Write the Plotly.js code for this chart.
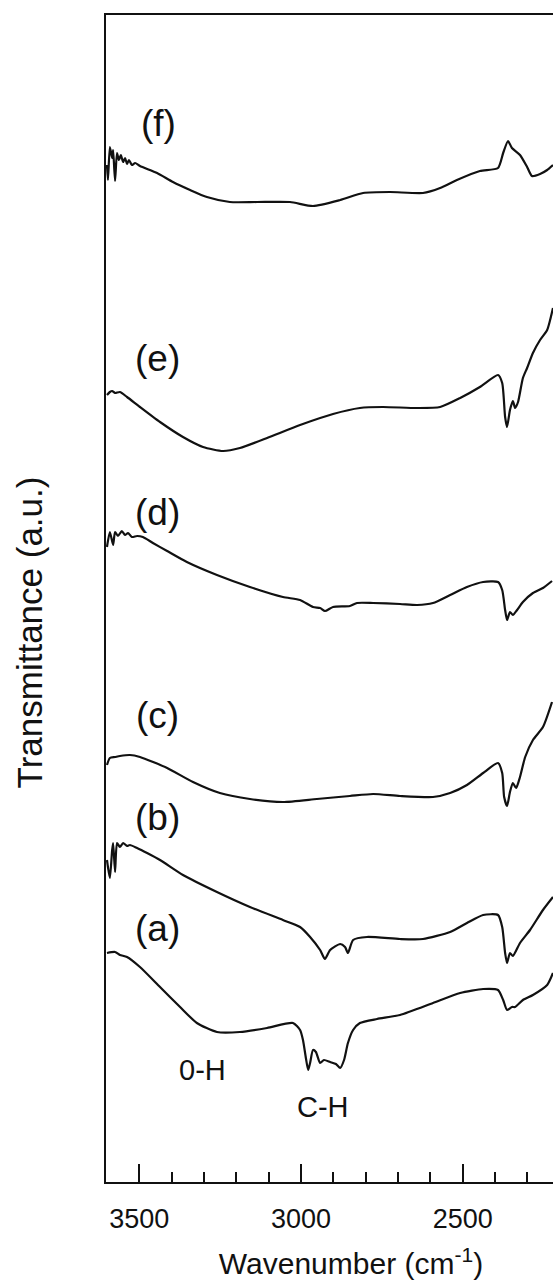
<!DOCTYPE html>
<html>
<head>
<meta charset="utf-8">
<script src="https://cdn.plot.ly/plotly-3.0.1.min.js"></script>
<style>
html,body{margin:0;padding:0;overflow:hidden;background:#fff;}
#chart{width:596px;height:1282px;}
</style>
</head>
<body>
<div id="chart"></div>
<script>
// Wavenumber (cm-1) and transmittance (a.u., stacked)
const wnF = [3600,3597,3591,3584,3581,3575,3569,3563,3557,3550,3544,3538,3532,3523,3513,3498,3445,3396,3343,3291,3220,3136,3034,2963,2879,2808,2725,2623,2570,2518,2447,2391,2375,2360,2348,2323,2301,2286,2261,2239,2221];
const tF  = [101.7,100.2,103.5,102.4,103.2,100.1,102.9,102.2,102.7,102.0,102.4,101.8,102.2,101.7,101.9,101.6,100.9,100.0,99.2,98.5,98.0,98.0,98.0,97.6,98.2,98.9,99.0,98.9,99.4,100.2,101.1,101.4,102.9,104.1,103.4,102.7,101.5,100.6,100.8,101.2,101.7];

const wnE = [3600,3591,3584,3575,3560,3538,3498,3436,3365,3303,3241,3189,3105,3003,2901,2818,2747,2641,2570,2508,2447,2391,2378,2369,2363,2354,2345,2338,2329,2314,2301,2283,2261,2239,2221];
const tE  = [78.7,79.0,79.1,78.9,79.0,78.5,77.5,76.0,74.5,73.5,73.1,73.4,74.4,75.7,76.8,77.4,77.5,77.4,77.5,78.4,79.5,80.7,79.9,76.5,75.5,77.2,78.1,77.4,78.0,80.4,81.4,82.9,84.2,85.2,87.4];

const wnD = [3600,3591,3581,3575,3566,3554,3544,3535,3523,3507,3489,3458,3414,3353,3260,3158,3056,3003,2963,2941,2926,2901,2849,2827,2777,2694,2641,2592,2539,2487,2437,2391,2378,2369,2363,2354,2345,2332,2314,2283,2252,2224];
const tD  = [63.5,65.0,63.7,65.0,64.6,65.1,64.7,64.9,64.5,64.6,64.5,63.9,63.1,62.0,60.7,59.5,58.5,58.2,57.5,57.4,57.1,57.5,57.6,57.9,57.9,57.8,57.7,57.9,58.7,59.5,60.0,60.0,59.2,57.2,56.2,57.0,56.7,57.2,58.0,58.9,59.4,60.1];

const wnC = [3600,3591,3575,3560,3529,3498,3414,3334,3251,3158,3056,2951,2849,2777,2694,2592,2539,2487,2437,2391,2378,2372,2363,2354,2345,2335,2323,2307,2283,2252,2224];
const tC  = [41.7,42.4,42.5,42.6,42.7,42.5,41.4,40.0,38.9,38.3,38.0,38.3,38.6,38.8,38.6,38.5,38.9,39.7,40.9,41.9,40.9,38.5,37.6,39.0,39.9,39.4,40.5,42.5,44.2,45.5,48.0];

const wnB = [3600,3597,3591,3584,3581,3575,3569,3560,3550,3538,3529,3507,3476,3436,3365,3260,3158,3056,3003,2972,2941,2926,2910,2879,2864,2855,2839,2796,2694,2623,2539,2487,2437,2391,2378,2369,2363,2354,2345,2323,2292,2252,2221];
const tB  = [32.2,31.5,30.4,33.2,33.9,31.0,33.9,33.5,33.9,33.6,33.7,33.4,32.9,32.2,30.7,29.0,27.5,26.2,25.5,24.5,23.2,22.3,23.2,23.8,23.5,22.9,24.2,24.5,24.3,24.3,25.0,25.9,26.7,26.7,25.5,22.9,21.9,22.9,22.6,23.9,25.2,27.2,28.5];

const wnA = [3600,3575,3560,3538,3498,3436,3374,3322,3260,3189,3105,3025,3003,2994,2985,2978,2972,2963,2954,2941,2929,2910,2892,2879,2867,2855,2839,2818,2765,2694,2592,2508,2437,2391,2375,2363,2348,2338,2314,2283,2239,2221];
const tA  = [22.9,23.0,22.7,22.5,21.5,19.5,17.5,15.9,15.0,15.0,15.4,15.9,15.2,14.2,12.4,11.2,11.9,13.2,13.0,11.9,12.2,12.0,11.8,11.4,12.2,13.9,15.2,15.9,16.3,16.7,17.9,18.9,19.3,19.2,18.2,17.2,17.5,17.5,18.2,18.7,19.7,20.9];

const seriesLabels = ['(a)','(b)','(c)','(d)','(e)','(f)'];
const labelWn = [3445,3445,3445,3445,3445,3442];
const labelT  = [25.4,36.5,46.7,67.0,82.4,105.9];
const bandLabels = ['0-H','C-H'];
const bandWn = [3306,2932];
const bandT  = [11.2,7.5];

const FONT = 'Liberation Sans, Arial, Helvetica, sans-serif';
const series = [[wnA,tA],[wnB,tB],[wnC,tC],[wnD,tD],[wnE,tE],[wnF,tF]];
const traces = series.map((s,i)=>({
  x:s[0], y:s[1], type:'scatter', mode:'lines', name:seriesLabels[i],
  line:{color:'#111', width:2.2, shape:'spline', smoothing:0.6}, hoverinfo:'skip'
}));

const annotations = seriesLabels.map((t,i)=>({
  x:labelWn[i], y:labelT[i], xref:'x', yref:'y', text:t, showarrow:false,
  xanchor:'center', yanchor:'middle', font:{family:FONT, size:37, color:'#111'}
})).concat(bandLabels.map((t,i)=>({
  x:bandWn[i], y:bandT[i], xref:'x', yref:'y', text:t, showarrow:false,
  xanchor:'center', yanchor:'middle', font:{family:FONT, size:29, color:'#111'}
}))).concat([{
  x:-0.157, y:0.471, xref:'paper', yref:'paper', text:'Transmittance (a.u.)',
  textangle:-90, showarrow:false, xanchor:'center', yanchor:'middle',
  font:{family:FONT, size:35, color:'#111'}
}]);

const layout = {
  width:596, height:1282,
  margin:{l:106, r:0, t:15, b:100},
  paper_bgcolor:'#fff', plot_bgcolor:'#fff',
  showlegend:false,
  font:{family:FONT, color:'#111'},
  xaxis:{
    range:[3603,2088], tickmode:'linear', tick0:0, dtick:500,
    ticks:'inside', ticklen:18, tickwidth:2, tickcolor:'#111',
    minor:{tickmode:'linear', tick0:0, dtick:100, ticks:'inside', ticklen:10, tickwidth:2, tickcolor:'#111', showgrid:false},
    showline:true, linewidth:2, linecolor:'#111', mirror:true,
    showgrid:false, zeroline:false,
    tickfont:{family:FONT, size:27, color:'#111'},
    ticklabelstandoff:12,
    title:{text:'Wavenumber (cm<sup>-1</sup>)', font:{family:FONT, size:30, color:'#111'}, standoff:20},
    automargin:false
  },
  yaxis:{
    range:[0,116.7], showticklabels:false, ticks:'',
    showline:true, linewidth:2, linecolor:'#111', mirror:true,
    showgrid:false, zeroline:false, automargin:false
  },
  annotations:annotations
};

Plotly.newPlot('chart', traces, layout, {displayModeBar:false, staticPlot:true});
</script>
</body>
</html>
